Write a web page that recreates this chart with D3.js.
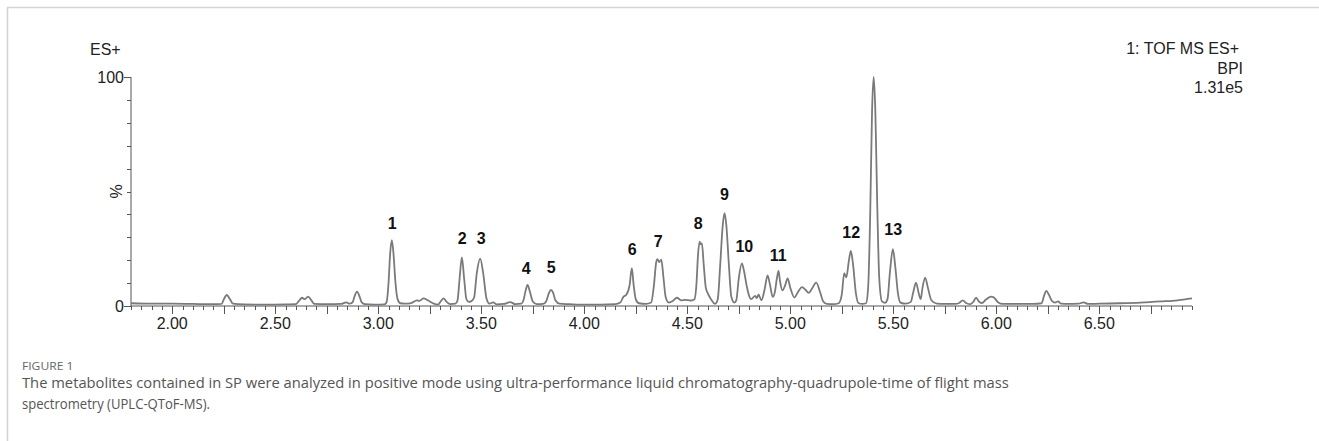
<!DOCTYPE html>
<html lang="en">
<head>
    <meta charset="UTF-8">
    <title>BPI chromatogram</title>
    <style>
        body { margin: 0; background: #fff; }
        text { font-family: "Liberation Sans", Arial, sans-serif; }
    </style>
</head>
<body>
<script src="https://cdn.jsdelivr.net/npm/d3@7"></script>
<script>
    // retention time (min), base peak intensity (%)
    let trace = [
        [1.80, 1.2], [1.90, 1.0], [2.00, 1.0], [2.10, 0.9], [2.20, 0.8], [2.24, 0.9],
        [2.25, 2.8], [2.265, 4.8], [2.28, 3.0], [2.295, 1.0],
        [2.35, 0.7], [2.45, 0.6], [2.55, 0.7], [2.60, 0.8],
        [2.615, 2.2], [2.63, 3.6], [2.643, 3.0], [2.66, 4.1], [2.675, 2.5], [2.69, 0.9],
        [2.75, 0.8], [2.82, 0.9], [2.845, 1.6], [2.86, 1.0],
        [2.875, 1.5], [2.885, 4.2], [2.897, 6.3], [2.91, 4.0], [2.92, 1.6], [2.935, 0.8],
        [2.98, 0.6], [3.03, 0.7],
        [3.040, 1.5], [3.050, 10], [3.058, 23], [3.066, 28.8], [3.074, 23], [3.083, 11], [3.094, 3.0], [3.107, 1.2],
        [3.13, 1.0], [3.16, 1.3], [3.188, 2.5], [3.20, 2.2], [3.22, 3.3], [3.24, 2.5], [3.27, 1.0], [3.29, 0.6],
        [3.305, 2.2], [3.317, 3.3], [3.33, 2.0], [3.35, 0.8], [3.375, 1.0],
        [3.385, 2.5], [3.395, 12], [3.406, 21.2], [3.417, 12], [3.428, 3.0], [3.44, 1.8], [3.45, 2.0],
        [3.465, 3.5], [3.478, 14], [3.495, 20.7], [3.51, 14], [3.525, 3.5], [3.54, 1.0],
        [3.558, 1.6], [3.575, 0.7], [3.61, 0.9], [3.641, 1.7], [3.665, 0.8], [3.695, 1.0],
        [3.705, 2.5], [3.715, 6.5], [3.725, 9.2], [3.737, 6.0], [3.75, 2.0], [3.77, 0.8],
        [3.80, 0.9], [3.815, 2.0], [3.828, 5.5], [3.838, 7.0], [3.848, 6.0], [3.86, 2.5], [3.88, 1.0],
        [3.93, 0.8], [4.00, 0.6], [4.08, 0.6], [4.15, 0.8], [4.175, 1.5],
        [4.19, 4.0], [4.205, 5.0], [4.22, 9], [4.231, 16.5], [4.24, 9], [4.25, 3.0], [4.265, 1.2], [4.30, 0.9], [4.325, 1.5],
        [4.337, 8], [4.35, 19.5], [4.355, 20.5], [4.364, 19.2], [4.374, 20.2], [4.385, 12], [4.395, 4], [4.41, 1.5],
        [4.43, 2.2], [4.45, 3.6], [4.47, 2.5], [4.49, 2.7], [4.515, 2.4], [4.535, 3.0],
        [4.545, 10], [4.552, 22], [4.56, 28.1], [4.565, 27], [4.571, 27.3], [4.58, 18], [4.59, 8], [4.60, 5.5], [4.615, 3.0], [4.635, 1.0],
        [4.648, 3], [4.66, 18], [4.672, 35], [4.681, 40.5], [4.69, 35], [4.702, 18], [4.714, 4], [4.728, 1.5],
        [4.738, 2.5], [4.75, 12], [4.765, 18.6], [4.775, 15.5], [4.788, 9], [4.80, 4.5], [4.81, 3.0],
        [4.83, 4.4], [4.838, 3.5], [4.846, 5.0], [4.86, 2.5],
        [4.875, 7], [4.89, 13.4], [4.90, 10], [4.915, 4.0], [4.925, 6], [4.935, 12], [4.943, 15.3], [4.95, 11],
        [4.962, 6.8], [4.975, 9], [4.987, 12.1], [5.0, 8], [5.02, 3.7], [5.04, 6.5], [5.057, 8.2], [5.075, 7],
        [5.089, 5.7], [5.105, 7.5], [5.126, 10.2], [5.145, 6], [5.16, 2.0], [5.178, 0.9],
        [5.21, 0.8], [5.235, 1.2],
        [5.25, 5], [5.262, 14.3], [5.272, 12.5], [5.285, 20], [5.294, 24.1], [5.305, 18], [5.318, 6], [5.332, 1.2],
        [5.35, 0.9], [5.368, 1.2],
        [5.378, 8], [5.388, 40], [5.397, 85], [5.405, 100], [5.413, 85], [5.422, 45], [5.432, 12], [5.445, 2.0], [5.46, 1.4],
        [5.472, 3], [5.484, 15], [5.498, 24.8], [5.51, 17], [5.522, 6], [5.535, 1.5], [5.56, 1.0], [5.585, 1.8],
        [5.597, 6], [5.61, 10.2], [5.625, 5], [5.633, 3.0], [5.642, 8], [5.655, 12.4], [5.668, 8], [5.685, 2.5], [5.712, 1.0],
        [5.75, 0.9], [5.80, 0.9], [5.82, 1.3], [5.837, 2.5], [5.855, 1.2], [5.875, 0.8], [5.89, 2.0], [5.902, 3.7],
        [5.915, 2.0], [5.93, 1.3], [5.95, 2.8], [5.975, 4.1], [5.99, 3.6], [6.01, 1.5], [6.03, 0.9],
        [6.10, 0.9], [6.18, 0.9], [6.22, 1.2],
        [6.232, 4.5], [6.243, 6.6], [6.255, 5], [6.27, 2.2], [6.285, 1.5], [6.30, 2.0], [6.315, 1.0],
        [6.35, 0.9], [6.40, 1.0], [6.424, 1.6], [6.445, 0.9],
        [6.50, 1.0], [6.60, 1.2], [6.70, 1.5], [6.80, 2.0], [6.88, 2.5], [6.95, 3.3]
    ];

    // numbered peaks: retention time and label level (%)
    let peakNo = ["1", "2", "3", "4", "5", "6", "7", "8", "9", "10", "11", "12", "13"];
    let peakRt = [3.068, 3.408, 3.50, 3.718, 3.84, 4.233, 4.359, 4.553, 4.68, 4.777, 4.942, 5.296, 5.50];
    let peakLabelPct = [33.8, 27.2, 27.2, 14.0, 14.5, 22.4, 25.9, 33.8, 46.1, 23.7, 19.7, 29.8, 31.1];

    let xLabels = [2.00, 2.50, 3.00, 3.50, 4.00, 4.50, 5.00, 5.50, 6.00, 6.50];
    let headerRight = ["1: TOF MS ES+", "BPI", "1.31e5"];
    let caption = [
        "The metabolites contained in SP were analyzed in positive mode using ultra-performance liquid chromatography-quadrupole-time of flight mass",
        "spectrometry (UPLC-QToF-MS)."
    ];

    let width = 1319;
    let height = 441;
    let svg = d3.select("body").append("svg")
        .attr("width", width)
        .attr("height", height);

    // frame
    svg.append("path")
        .attr("d", "M7.5," + height + "V7.5H" + width)
        .attr("fill", "none")
        .attr("stroke", "#d4d4d4")
        .attr("stroke-width", 1.5);

    let x = d3.scaleLinear().domain([1.80, 6.95]).range([131, 1192]);
    let y = d3.scaleLinear().domain([0, 100]).range([306, 77]);

    // x axis: minor every 0.05, major every 0.25
    let minor = d3.range(0, 104).map(i => +(1.80 + i * 0.05).toFixed(2));
    let xAxis = svg.append("g").attr("transform", "translate(0," + y(0) + ")");
    xAxis.append("line")
        .attr("x1", x(1.80)).attr("x2", x(6.95))
        .attr("stroke", "#555").attr("stroke-width", 1);
    xAxis.selectAll("line.tick")
        .data(minor)
        .enter()
        .append("line")
        .attr("class", "tick")
        .attr("x1", d => Math.round(x(d)) + 0.5)
        .attr("x2", d => Math.round(x(d)) + 0.5)
        .attr("y1", 0)
        .attr("y2", d => Math.abs(d * 4 - Math.round(d * 4)) < 1e-6 ? 8 : 4)
        .attr("stroke", "#555").attr("stroke-width", 1);
    xAxis.selectAll("text")
        .data(xLabels)
        .enter()
        .append("text")
        .attr("x", d => x(d))
        .attr("y", 23)
        .attr("text-anchor", "middle")
        .attr("font-size", 16)
        .attr("fill", "#222")
        .text(d => d3.format(".2f")(d));

    // y axis
    let yAxis = svg.append("g").attr("transform", "translate(" + x(1.80) + ",0)");
    yAxis.append("line")
        .attr("y1", y(0)).attr("y2", y(100))
        .attr("stroke", "#555").attr("stroke-width", 1);
    yAxis.selectAll("line.tick")
        .data(d3.range(0, 101, 10))
        .enter()
        .append("line")
        .attr("class", "tick")
        .attr("y1", d => Math.round(y(d)) + 0.5)
        .attr("y2", d => Math.round(y(d)) + 0.5)
        .attr("x1", d => (d === 0 || d === 100) ? -7 : -4)
        .attr("x2", 0)
        .attr("stroke", "#555").attr("stroke-width", 1);
    yAxis.selectAll("text.lab")
        .data([0, 100])
        .enter()
        .append("text")
        .attr("class", "lab")
        .attr("x", -7)
        .attr("y", d => y(d) + 5.5)
        .attr("text-anchor", "end")
        .attr("font-size", 16)
        .attr("fill", "#222")
        .text(d => d);
    yAxis.append("text")
        .attr("transform", "translate(-9," + y(50) + ") rotate(-90)")
        .attr("text-anchor", "middle")
        .attr("font-size", 16)
        .attr("fill", "#222")
        .text("%");

    // headers
    svg.append("text")
        .attr("x", 90).attr("y", 55)
        .attr("font-size", 16).attr("fill", "#222")
        .text("ES+");
    svg.selectAll("text.hdr")
        .data(headerRight)
        .enter()
        .append("text")
        .attr("class", "hdr")
        .attr("x", (d, i) => i === 0 ? 1239 : 1243)
        .attr("y", (d, i) => 54 + i * 19.5)
        .attr("text-anchor", "end")
        .attr("font-size", 16).attr("fill", "#222")
        .text(d => d);

    // trace
    let line = d3.line()
        .x(d => x(d[0]))
        .y(d => y(d[1]))
        .curve(d3.curveMonotoneX);
    svg.append("path")
        .datum(trace)
        .attr("d", line)
        .attr("fill", "none")
        .attr("stroke", "#7a7a7a")
        .attr("stroke-width", 1.8)
        .attr("stroke-linejoin", "round");

    // peak labels
    svg.selectAll("text.peak")
        .data(peakNo)
        .enter()
        .append("text")
        .attr("class", "peak")
        .attr("x", (d, i) => x(peakRt[i]))
        .attr("y", (d, i) => y(peakLabelPct[i]))
        .attr("text-anchor", "middle")
        .attr("font-size", 16)
        .attr("font-weight", "bold")
        .attr("fill", "#111")
        .text(d => d);

    // caption, squeezed horizontally to the width of the original
    let cap = svg.append("g");
    cap.append("text")
        .attr("x", 0).attr("y", 370)
        .style("font-family", "'Open Sans', sans-serif")
        .attr("font-size", 11.5)
        .attr("fill", "#666")
        .text("FIGURE 1");
    cap.selectAll("text.cap")
        .data(caption)
        .enter()
        .append("text")
        .attr("class", "cap")
        .attr("x", 0)
        .attr("y", (d, i) => 388 + i * 21)
        .style("font-family", "'Open Sans', sans-serif")
        .attr("font-size", 14)
        .attr("fill", "#555")
        .text(d => d);
    let w = cap.select("text.cap").node().getComputedTextLength();
    let k = 988 / w;
    cap.attr("transform", "translate(22,0) scale(" + k + ",1)");
    cap.selectAll("text.cap").filter((d, i) => i === 1)
        .attr("textLength", 188 / k)
        .attr("lengthAdjust", "spacingAndGlyphs");
</script>
</body>
</html>
